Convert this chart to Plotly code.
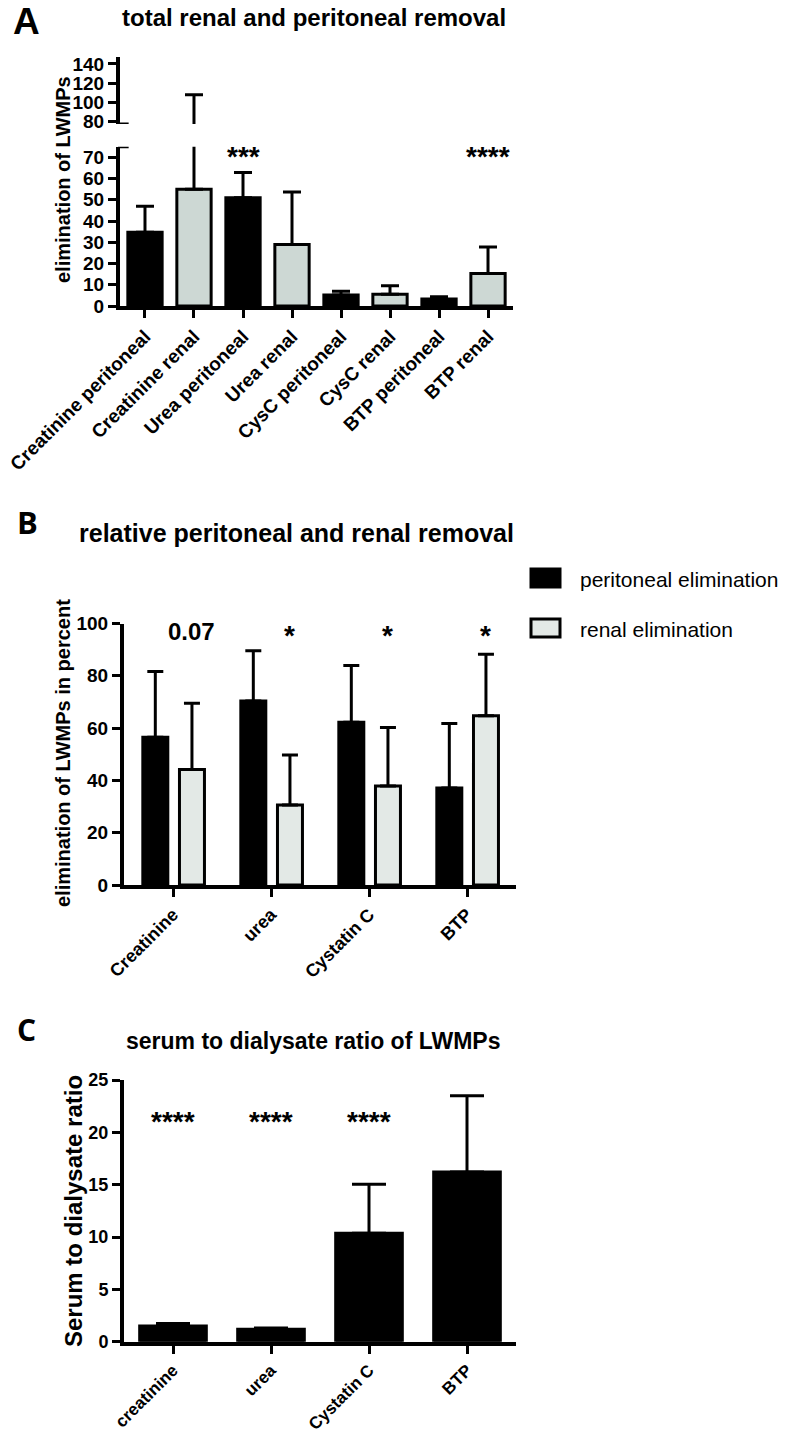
import plotly.graph_objects as go

W, H = 787, 1435

# ---------------- data ----------------
# Panel A: total renal and peritoneal removal
a_categories = ["Creatinine peritoneal", "Creatinine renal", "Urea peritoneal", "Urea renal",
                "CysC peritoneal", "CysC renal", "BTP peritoneal", "BTP renal"]
a_route = ["peritoneal", "renal", "peritoneal", "renal", "peritoneal", "renal", "peritoneal", "renal"]
a_means = [34.7, 55.0, 51.0, 29.0, 5.2, 5.5, 3.3, 15.3]
a_sd = [12.3, 53.0, 11.8, 24.7, 1.8, 4.0, 1.1, 12.5]
a_stars = ["", "", "***", "", "", "", "", "****"]
a_ticks_low = [0, 10, 20, 30, 40, 50, 60, 70]
a_ticks_high = [80, 100, 120, 140]

# Panel B: relative peritoneal and renal removal (percent)
b_categories = ["Creatinine", "urea", "Cystatin C", "BTP"]
b_peritoneal = [56.5, 70.4, 62.2, 37.1]
b_peritoneal_sd = [25.1, 19.2, 21.7, 24.7]
b_renal = [44.2, 30.6, 37.9, 64.7]
b_renal_sd = [25.3, 19.1, 22.3, 23.5]
b_marks = ["0.07", "*", "*", "*"]
b_ticks = [0, 20, 40, 60, 80, 100]

# Panel C: serum to dialysate ratio
c_categories = ["creatinine", "urea", "Cystatin C", "BTP"]
c_means = [1.5, 1.18, 10.35, 16.2]
c_sd = [0.25, 0.14, 4.7, 7.3]
c_stars = ["****", "****", "****", ""]
c_ticks = [0, 5, 10, 15, 20, 25]

# ---------------- style ----------------
BLACK = "#000000"
GRAY_A = "#cdd8d4"
GRAY_B = "#e3e9e6"
FONT = "Liberation Sans, Arial, sans-serif"
FONT2 = "Open Sans, Liberation Sans, sans-serif"
route_color = {"peritoneal": BLACK, "renal": GRAY_A}


def xp(px):
    return px / W


def yp(py):
    return 1 - py / H


fig = go.Figure()

# Panel A bars: lower and upper (axis break) segments
for xa, ya in (("x", "y"), ("x2", "y2")):
    fig.add_trace(go.Bar(
        x=a_categories, y=a_means,
        marker=dict(color=[route_color[r] for r in a_route], line=dict(color=BLACK, width=3)),
        width=0.7,
        error_y=dict(type="data", array=a_sd, arrayminus=[0] * len(a_sd), symmetric=False,
                     color=BLACK, thickness=3, width=9),
        xaxis=xa, yaxis=ya, showlegend=False, hoverinfo="x+y",
    ))

# Panel B grouped bars
fig.add_trace(go.Bar(
    x=b_categories, y=b_peritoneal, name="peritoneal elimination",
    marker=dict(color=BLACK, line=dict(color=BLACK, width=3)),
    width=0.255, offset=-0.308,
    error_y=dict(type="data", array=b_peritoneal_sd, arrayminus=[0] * 4, symmetric=False,
                 color=BLACK, thickness=3, width=8),
    xaxis="x3", yaxis="y3", showlegend=False,
))
fig.add_trace(go.Bar(
    x=b_categories, y=b_renal, name="renal elimination",
    marker=dict(color=GRAY_B, line=dict(color=BLACK, width=3)),
    width=0.255, offset=0.066,
    error_y=dict(type="data", array=b_renal_sd, arrayminus=[0] * 4, symmetric=False,
                 color=BLACK, thickness=3, width=8),
    xaxis="x3", yaxis="y3", showlegend=False,
))

# Panel C bars
fig.add_trace(go.Bar(
    x=c_categories, y=c_means,
    marker=dict(color=BLACK, line=dict(color=BLACK, width=3)),
    width=0.68,
    error_y=dict(type="data", array=c_sd, arrayminus=[0] * 4, symmetric=False,
                 color=BLACK, thickness=3, width=17),
    xaxis="x4", yaxis="y4", showlegend=False,
))

axis_common = dict(showgrid=False, zeroline=False, showline=True, linecolor=BLACK, linewidth=4,
                   ticks="outside", ticklen=8, tickwidth=3, tickcolor=BLACK, automargin=False)


def tickfont(size):
    return dict(family=FONT, size=size, color=BLACK, weight="bold")


fig.update_layout(
    width=W, height=H, margin=dict(l=0, r=0, t=0, b=0, autoexpand=False),
    paper_bgcolor="white", plot_bgcolor="white",
    barmode="overlay", showlegend=False,
    xaxis=dict(axis_common, domain=[xp(120), xp(513)], anchor="y", range=[-0.51, 7.51],
               type="category", tickangle=-45, tickfont=tickfont(19)),
    yaxis=dict(axis_common, domain=[yp(306), yp(146.7)], anchor="x", range=[0, 75],
               tickvals=a_ticks_low, tickfont=tickfont(19)),
    xaxis2=dict(domain=[xp(120), xp(513)], anchor="y2", range=[-0.51, 7.51], type="category",
                visible=False, automargin=False),
    yaxis2=dict(axis_common, domain=[yp(124), yp(56.7)], anchor="x2", range=[77.5, 147.5],
                tickvals=a_ticks_high, tickfont=tickfont(19)),
    xaxis3=dict(axis_common, domain=[xp(124), xp(516)], anchor="y3", range=[-0.5, 3.5],
                type="category", tickangle=-45, tickfont=tickfont(18)),
    yaxis3=dict(axis_common, domain=[yp(885), yp(623.5)], anchor="x3", range=[0, 100],
                tickvals=b_ticks, tickfont=tickfont(19)),
    xaxis4=dict(axis_common, domain=[xp(124), xp(516)], anchor="y4", range=[-0.5, 3.5],
                type="category", tickangle=-45, tickfont=tickfont(17)),
    yaxis4=dict(axis_common, domain=[yp(1341.7), yp(1080)], anchor="x4", range=[0, 25],
                tickvals=c_ticks, tickfont=tickfont(18)),
)

ann = []


def text(x, y, s, size, family=FONT, bold=True, angle=0, xanchor="center"):
    ann.append(dict(x=xp(x), y=yp(y), xref="paper", yref="paper", text=s, showarrow=False,
                    textangle=angle, xanchor=xanchor, yanchor="middle",
                    font=dict(family=family, size=size, color=BLACK,
                              weight="bold" if bold else "normal")))


# panel letters and titles
text(26, 21, "A", 37)
text(314, 18, "total renal and peritoneal removal", 24)
text(27, 522, "B", 31, family=FONT2)
text(296, 533, "relative peritoneal and renal removal", 25)
text(26, 1029, "C", 30, family=FONT2)
text(313, 1041, "serum to dialysate ratio of LWMPs", 23)

# y-axis titles
text(63, 180, "elimination of LWMPs", 20, angle=-90)
text(63, 753, "elimination of LWMPs in percent", 20, angle=-90)
text(73, 1211, "Serum to dialysate ratio", 24, angle=-90)

# significance marks
for i, s in enumerate(a_stars):
    if s:
        ann.append(dict(x=a_categories[i], y=70.5, xref="x", yref="y", text=s, showarrow=False,
                        yanchor="middle", font=dict(family=FONT, size=28, color=BLACK, weight="bold")))
for i, s in enumerate(b_marks):
    size = 24 if s[0].isdigit() else 28
    ann.append(dict(x=i + 0.19, y=97.0 if s[0].isdigit() else 95.5, xref="x3", yref="y3", text=s,
                    showarrow=False, yanchor="middle",
                    font=dict(family=FONT, size=size, color=BLACK, weight="bold")))
for i, s in enumerate(c_stars):
    if s:
        ann.append(dict(x=c_categories[i], y=21.0, xref="x4", yref="y4", text=s, showarrow=False,
                        yanchor="middle", font=dict(family=FONT, size=28, color=BLACK, weight="bold")))

# legend for panel B (drawn manually to match large swatches)
legend_items = [("peritoneal elimination", BLACK, 578), ("renal elimination", GRAY_B, 628)]
shapes = []
for label, col, yc in legend_items:
    shapes.append(dict(type="rect", xref="paper", yref="paper", x0=xp(531), x1=xp(560),
                       y0=yp(yc + 9), y1=yp(yc - 9), fillcolor=col,
                       line=dict(color=BLACK, width=3)))
    text(578, yc + 1, label, 21, bold=False, xanchor="left")

# axis-break marks on panel A
shapes.append(dict(type="line", xref="x domain", yref="y", x0=-0.005, x1=0.022, y0=75, y1=75,
                   line=dict(color=BLACK, width=3)))
shapes.append(dict(type="line", xref="x2 domain", yref="y2", x0=-0.005, x1=0.022, y0=77.5, y1=77.5,
                   line=dict(color=BLACK, width=3)))

fig.update_layout(annotations=ann, shapes=shapes)

fig.write_html("out.html", config={"displayModeBar": False},
               post_script="document.body.style.margin='0px';")
